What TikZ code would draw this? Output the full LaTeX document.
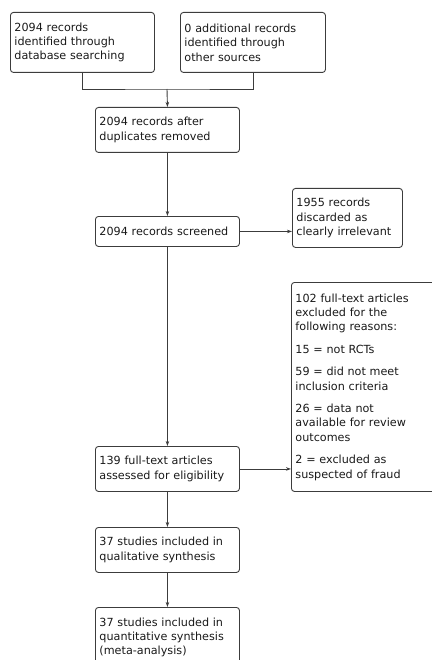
\documentclass[tikz,border=0pt]{standalone}
\usepackage{fontspec}
\setmainfont{DejaVu Sans}
\usetikzlibrary{arrows.meta,positioning}
\definecolor{linegray}{RGB}{60,60,60}
\definecolor{textgray}{RGB}{25,25,25}

\begin{document}
\begin{tikzpicture}[x=1pt,y=1pt,
  flowbox/.style={draw=linegray,line width=0.9pt,rounded corners=3pt,anchor=north west,align=left,inner sep=4pt,text width=136pt,text=textgray,font=\fontsize{11.2}{14.4}\selectfont},
  flowarrow/.style={draw=linegray,line width=0.9pt,-{Stealth[length=5pt,width=3.5pt]}}]
\useasboundingbox (0,0) rectangle (431,-660);
\node[flowbox,minimum height=60pt] (dbsearch) at (10,-12) {2094 records\\identified through\\database searching};
\node[flowbox,minimum height=60pt,text width=137pt] (othersrc) at (180,-12) {0 additional records\\identified through\\other sources};
\node[flowbox,minimum height=45pt] (dedup) at (95,-107) {2094 records after\\duplicates removed};
\node[flowbox,minimum height=30pt] (screened) at (95,-216) {2094 records screened};
\node[flowbox,minimum height=59pt,text width=102pt] (discarded) at (292,-188) {1955 records\\discarded as\\clearly irrelevant};
\node[flowbox,minimum height=209pt,text width=137pt] (excluded) at (291,-282) {102 full-text articles\\excluded for the\\following reasons:\\[8pt]15 = not RCTs\\[8pt]59 = did not meet\\inclusion criteria\\[8pt]26 = data not\\available for review\\outcomes\\[8pt]2 = excluded as\\suspected of fraud\\[6pt]};
\node[flowbox,minimum height=45pt] (fulltext) at (95,-446) {139 full-text articles\\assessed for eligibility};
\node[flowbox,minimum height=45pt] (qualit) at (95,-527) {37 studies included in\\qualitative synthesis};
\node[flowbox,minimum height=60pt] (quantit) at (95,-607) {37 studies included in\\quantitative synthesis\\(meta-analysis)};
\coordinate (merge) at (167,-89);
\draw[linegray,line width=0.9pt] (dbsearch.south) |- (merge) -| (othersrc.south);
\draw[flowarrow] (merge) -- (dedup.north);
\foreach \a/\b in {dedup/screened,screened/fulltext,fulltext/qualit,qualit/quantit} \draw[flowarrow] (\a.south)--(\b.north);
\draw[flowarrow] (screened.east) -- (screened.east -| discarded.west);
\draw[flowarrow] (fulltext.east) -- (fulltext.east -| excluded.west);
\end{tikzpicture}
\end{document}
